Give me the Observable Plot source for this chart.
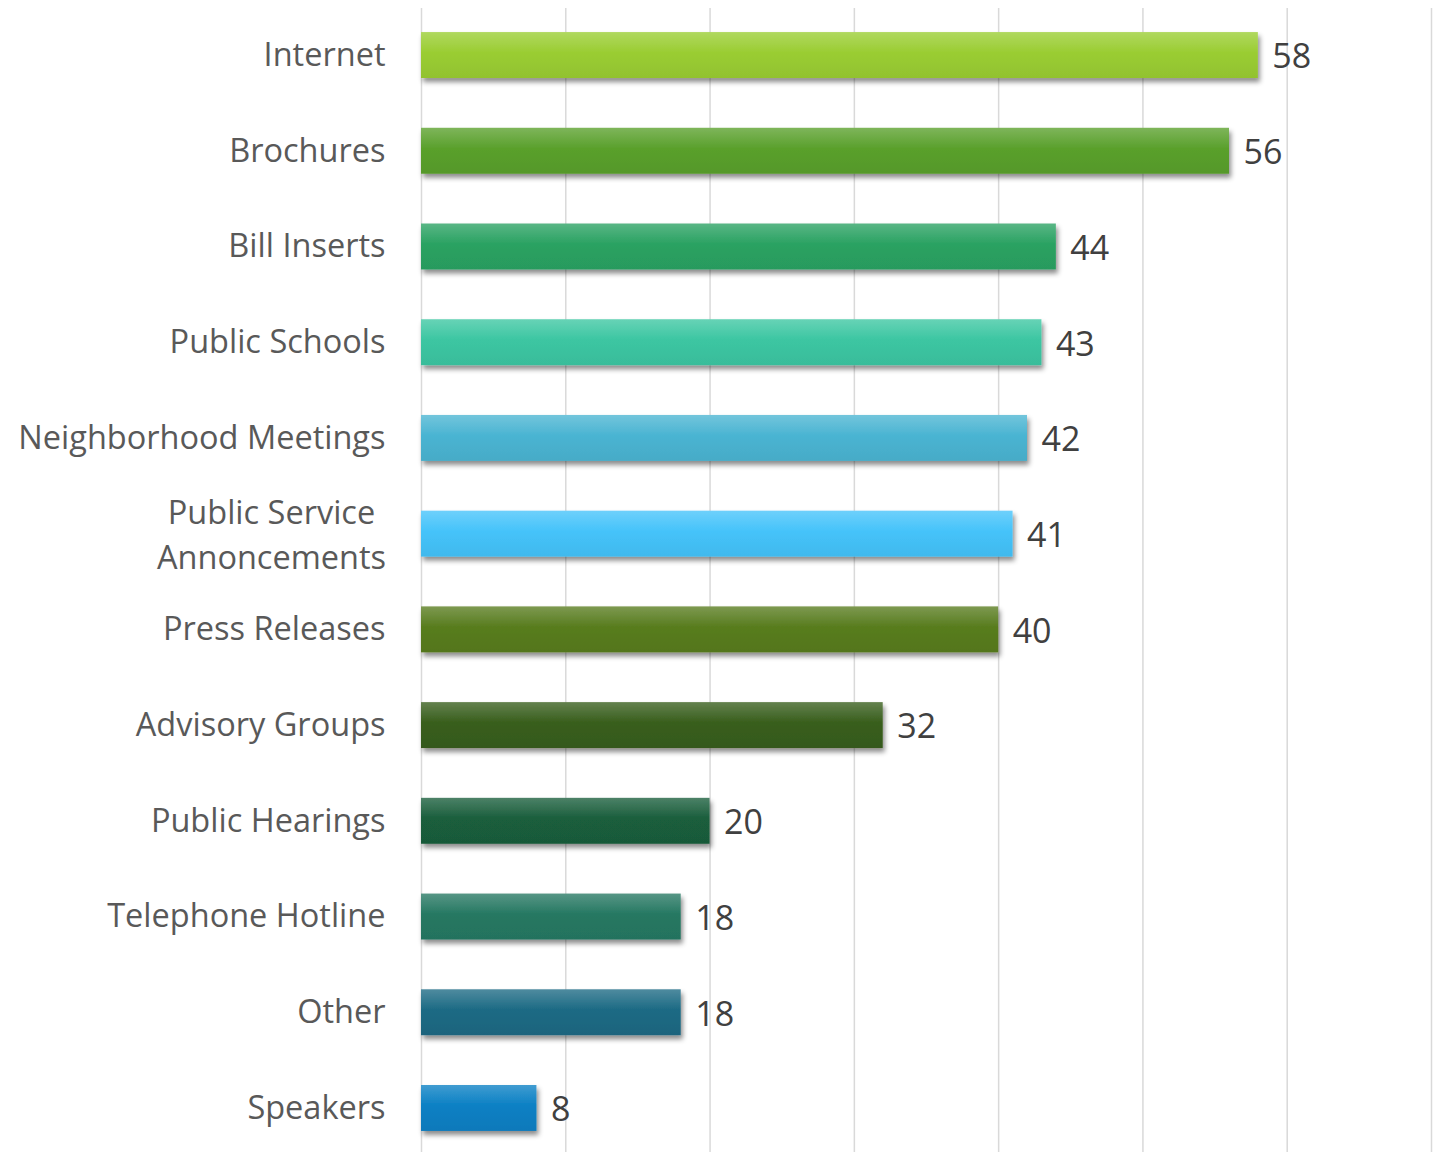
<!DOCTYPE html>
<html>
<head>
<meta charset="utf-8">
<script src="https://cdn.jsdelivr.net/npm/d3@7"></script>
<script src="https://cdn.jsdelivr.net/npm/@observablehq/plot@0.6"></script>
<style>
  html, body { margin: 0; padding: 0; background: #fff; }
  #chart svg { display: block; }
</style>
</head>
<body>
<div id="chart"></div>
<script>
const categories = [
  "Internet", "Brochures", "Bill Inserts", "Public Schools", "Neighborhood Meetings",
  "Public Service\nAnnoncements", "Press Releases", "Advisory Groups", "Public Hearings",
  "Telephone Hotline", "Other", "Speakers"
];
const values = [58, 56, 44, 43, 42, 41, 40, 32, 20, 18, 18, 8];
const xTicks = [0, 10, 20, 30, 40, 50, 60, 70];
const colors = [
  "#9acd32", "#5aa02c", "#2aa262", "#3cc6a2", "#4ab4d2", "#45c3fa",
  "#587c1e", "#385e1c", "#1a5e3c", "#267862", "#1c6a84", "#0a80c4"
];

const data = categories.map((c, i) => ({category: c, value: values[i], idx: i}));
const wrapped = categories.filter(c => c.includes("\n"));
const plain = categories.filter(c => !c.includes("\n"));

const font = "'Open Sans', sans-serif";

const chart = Plot.plot({
  width: 1437,
  height: 1152,
  marginLeft: 421,
  marginRight: 6,
  marginTop: 8,
  marginBottom: 0,
  style: {fontFamily: font, background: "#fff"},
  x: {domain: [0, 70], axis: null},
  y: {domain: categories, range: [11, 1152], round: false, paddingInner: 0.52, paddingOuter: 0.22, axis: null},
  color: {type: "identity"},
  marks: [
    Plot.ruleX(xTicks, {stroke: "#d9d9d9", strokeWidth: 1.5}),
    Plot.barX(data, {
      x: "value", y: "category",
      fill: d => `url(#grad${d.idx})`
    }),
    Plot.text(data, {
      x: "value", y: "category", text: d => String(d.value),
      dx: 14, dy: 2, textAnchor: "start", fontSize: 34, fill: "#404040"
    }),
    Plot.text(data.filter(d => plain.includes(d.category)), {
      y: "category", text: "category", frameAnchor: "left",
      dx: -36, textAnchor: "end", fontSize: 32.5, fill: "#595959"
    }),
    Plot.text(data.filter(d => wrapped.includes(d.category)), {
      y: "category", text: "category", frameAnchor: "left",
      dx: -150, dy: -2, textAnchor: "middle", fontSize: 32.5, lineHeight: 1.37, fill: "#595959"
    })
  ]
});

// gradients and shadow
const svg = d3.select(chart);
const defs = svg.insert("defs", ":first-child");
colors.forEach((c, i) => {
  const base = d3.color(c);
  const top = d3.interpolateRgb(c, "#ffffff")(0.22);
  const bottom = base.darker(0.15).formatHex();
  const g = defs.append("linearGradient")
    .attr("id", `grad${i}`).attr("x1", 0).attr("y1", 0).attr("x2", 0).attr("y2", 1);
  g.append("stop").attr("offset", "0%").attr("stop-color", top);
  g.append("stop").attr("offset", "45%").attr("stop-color", c);
  g.append("stop").attr("offset", "100%").attr("stop-color", bottom);
});
const f = defs.append("filter").attr("id", "shadow")
  .attr("x", "-5%").attr("y", "-20%").attr("width", "115%").attr("height", "160%");
f.append("feDropShadow").attr("dx", 2).attr("dy", 4).attr("stdDeviation", 2.5)
  .attr("flood-color", "#000").attr("flood-opacity", 0.45);
svg.selectAll("g[aria-label='bar'] rect").attr("filter", "url(#shadow)");

document.getElementById("chart").appendChild(chart);
</script>
</body>
</html>
